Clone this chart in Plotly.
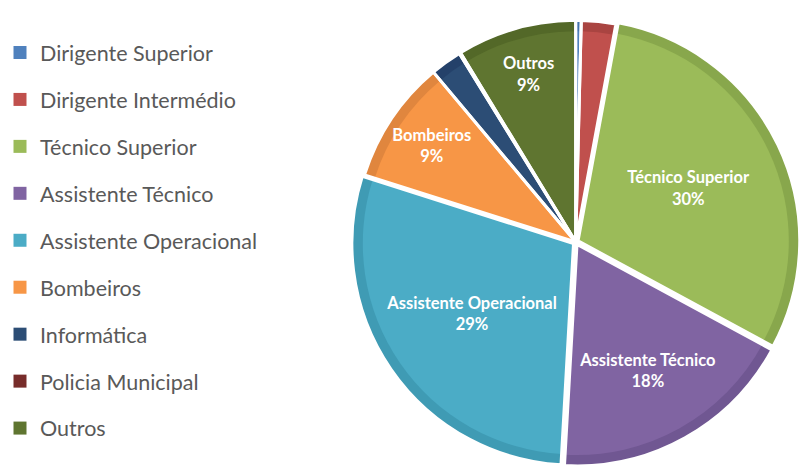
import plotly.graph_objects as go

# ---- data ----
labels = ["Dirigente Superior", "Dirigente Intermédio", "Técnico Superior",
          "Assistente Técnico", "Assistente Operacional", "Bombeiros",
          "Informática", "Policia Municipal", "Outros"]
values = [0.4, 2.5, 30, 18, 29, 9, 2.3, 0.1, 8.7]
fill_colors = ["#4F81BD", "#C0504D", "#9BBB59", "#8064A2", "#4BACC6",
               "#F79646", "#2C4D75", "#772C2A", "#5F7530"]
band_colors = ["#4373AD", "#A94441", "#88A74C", "#705792", "#3F9BB4",
               "#E0863E", "#24416A", "#692725", "#536828"]
show_label = [False, False, True, True, True, True, False, False, True]
pulls = [0, 0, 0.012, 0.012, 0.012, 0, 0, 0, 0]

# ---- layout geometry ----
W, H = 800, 473
cx, cy = 572, 242
maxp = max(pulls)
half = W - cx              # half box width (pie reaches right edge)
band = 11                  # darker rim width in px


def dom(h):
    return dict(x=[(cx - h) / W, (cx + h) / W],
                y=[1 - (cy + h) / H, 1 - (cy - h) / H])


templates = ["%{label}<br>%{percent:.0%}" if s else "" for s in show_label]

common = dict(labels=labels, values=values, sort=False, direction="clockwise",
              rotation=0, pull=pulls, showlegend=False, hoverinfo="label+percent")

fig = go.Figure()
# dark rim (full size)
fig.add_trace(go.Pie(**common, domain=dom(half),
                     marker=dict(colors=band_colors, line=dict(width=0)),
                     textinfo="none"))
# light interior (slightly smaller)
fig.add_trace(go.Pie(**common, domain=dom(half - band * (1 + maxp)),
                     marker=dict(colors=fill_colors, line=dict(width=0)),
                     textinfo="none"))
# white separators + labels
fig.add_trace(go.Pie(**common, domain=dom(half),
                     marker=dict(colors=["rgba(0,0,0,0)"] * len(labels),
                                 line=dict(color="white", width=3)),
                     texttemplate=templates, textposition="inside",
                     insidetextorientation="horizontal",
                     insidetextfont=dict(family="Lato", size=16.5, color="white",
                                         weight="bold")))

# legend entries
for i, (lab, col) in enumerate(zip(labels, fill_colors)):
    fig.add_trace(go.Scatter(x=[None], y=[None], mode="markers", name=lab,
                             legendgroup=f"g{i}",
                             marker=dict(symbol="square", size=13, color=col)))

fig.update_layout(
    width=W, height=H,
    margin=dict(l=0, r=0, t=0, b=0),
    paper_bgcolor="white", plot_bgcolor="white",
    xaxis=dict(visible=False), yaxis=dict(visible=False),
    uniformtext=dict(minsize=16.5, mode="show"),
    legend=dict(x=-0.017, y=1 - 32 / H, xanchor="left", yanchor="top",
                font=dict(family="Lato", size=21.5, color="#595959"),
                tracegroupgap=16, bgcolor="rgba(0,0,0,0)"),
)

fig.write_html("out.html")
